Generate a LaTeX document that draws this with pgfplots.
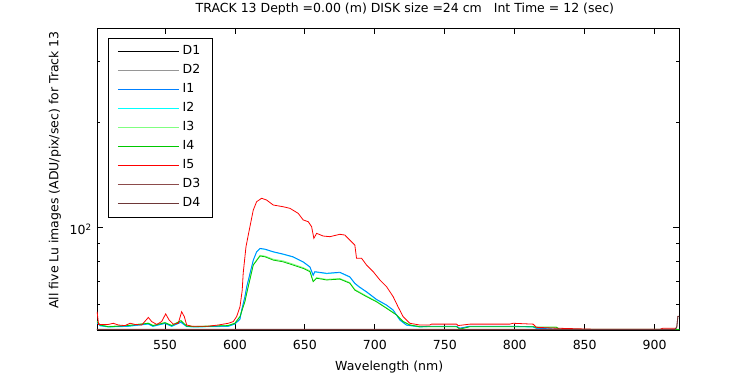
\documentclass[border=0pt]{standalone}
\usepackage{fontspec}
\setmainfont{DejaVu Sans}
\usepackage{pgfplots}
\pgfplotsset{compat=1.18}
\definecolor{cI1}{RGB}{0,128,255}
\definecolor{cI2}{RGB}{0,255,255}
\definecolor{cI3}{RGB}{128,255,128}
\definecolor{cI4}{RGB}{0,200,0}
\definecolor{cI5}{RGB}{255,0,0}
\definecolor{cD2}{RGB}{150,150,150}
\definecolor{cD3}{RGB}{140,75,75}
\definecolor{cD4}{RGB}{110,55,55}
\newcommand{\f}{\fontsize{12.5}{15}\selectfont}
\begin{document}
\f
\begin{tikzpicture}
\begin{axis}[
  scale only axis, width=582pt, height=302pt,
  ymode=log, xmin=501.4, xmax=917.4, ymin=50.7, ymax=374,
  xtick={550,600,650,700,750,800,850,900},
  ytick={100}, yticklabels={10\textsuperscript{2}},
  minor ytick={60,70,80,90,200,300},
  major tick length=6pt, minor tick length=3.5pt,
  tick style={black, line width=0.8pt},
  axis line style={line width=0.8pt},
  every tick label/.append style={font=\f},
  /pgf/number format/assume math mode=true,
  xticklabel style={anchor=base, yshift=-20pt},
  yticklabel style={xshift=-1pt, yshift=-2pt},
  title={TRACK 13 Depth =0.00 (m) DISK size =24 cm \ \ Int Time = 12 (sec)},
  title style={font=\f, at={(axis description cs:0.529,1.0298)}, anchor=base},
  xlabel={Wavelength (nm)},
  ylabel={All five Lu images (ADU/pix/sec) for Track 13},
  xlabel style={font=\f, at={(axis description cs:0.502,-0.1325)}, anchor=base},
  ylabel style={font=\f, at={(axis description cs:-0.0722,0.53)}, anchor=center, rotate=0},
  legend style={at={(0.0189,0.9669)}, anchor=north west, draw=black, line width=0.8pt, fill=white,
    font=\f, row sep=7pt, column sep=0pt, inner xsep=9pt, inner ysep=7.5pt,
    nodes={inner xsep=3.5pt, inner ysep=0pt, text height=9pt, text depth=3pt}},
  legend cell align=left,
  legend image code/.code={\draw[#1, line width=0.8pt] (0pt,0pt) -- (61pt,0pt);},
  every axis plot/.append style={line width=0.8pt},
]
\addlegendimage{black}\addlegendentry{D1}
\addlegendimage{cD2}\addlegendentry{D2}
\addlegendimage{cI1}\addlegendentry{I1}
\addlegendimage{cI2}\addlegendentry{I2}
\addlegendimage{cI3}\addlegendentry{I3}
\addlegendimage{cI4}\addlegendentry{I4}
\addlegendimage{cI5}\addlegendentry{I5}
\addlegendimage{cD3}\addlegendentry{D3}
\addlegendimage{cD4}\addlegendentry{D4}
% dark frames
\addplot[black, forget plot] coordinates {(501.4,50.75) (917.4,50.75)};
\addplot[cD2, forget plot] coordinates {(501.4,50.8) (917.4,50.8)};
% I2 (under I1)
\addplot[cI2, forget plot] coordinates {
(501.5,53.1) (503.6,52.1) (509.5,51.7) (523.6,51.9) (538.1,52.7) (541.4,51.9) (550,52.9) (554.8,51.9) (561.4,53.3) (565.5,51.8) (571.4,51.7) (595.2,51.9) (600,52.7) (603.6,54.4) (604.8,57.7) (607.1,63.0) (608.4,67.3) (613.1,80.3) (615.5,84.9) (617.9,86.8) (621.4,86.4) (627.4,84.9) (634.5,83.6) (641.6,82.1) (648.8,79.4) (653.6,76.8) (655.9,72.7) (657.1,74.4) (665.5,73.6) (675,74.1) (682.1,71.9) (685.7,68.9) (688.8,67.3) (694.1,65.1) (701.2,61.9) (708.4,59.7) (713.1,57.7) (717.9,54.1) (722.6,52.3) (732.1,51.7) (739.3,51.9) (758.4,51.9) (760.7,51.2) (767.9,51.9) (796.4,51.9) (813.1,51.7) (815.5,51.2) (829.8,50.9) (860.7,50.75) (917.4,50.75)};
% I3 (under I4)
\addplot[cI3, forget plot] coordinates {
(501.5,53.7) (503.6,52.5) (509.5,51.9) (523.6,52.3) (538.1,53.1) (541.4,52.3) (550,53.3) (554.8,52.3) (561.4,54.0) (565.5,52.1) (571.4,51.9) (595.2,52.3) (600,53.1) (603.6,55.5) (607.1,61.2) (608.4,64.8) (613.1,78.2) (617.9,83.1) (621.4,82.7) (627.4,81.0) (634.5,80.1) (641.6,78.4) (648.8,76.6) (653.6,75.0) (655.9,70.1) (658.4,71.7) (665.5,70.9) (675,71.3) (682.1,69.4) (685.7,66.3) (694.1,63.5) (701.2,61.3) (708.4,58.7) (715.5,56.1) (720.2,53.7) (725,52.5) (732.1,51.9) (758.4,51.9) (760.7,51.1) (767.9,51.9) (813.1,51.9) (815.5,51.7) (829.8,51.7) (832.1,51.0) (917.4,50.9)};
% I1
\addplot[cI1, forget plot] coordinates {
(501.5,53.2) (503.6,52.2) (509.5,51.8) (523.6,52.0) (538.1,52.8) (541.4,52.0) (550,53.0) (554.8,52.0) (561.4,53.4) (565.5,51.9) (571.4,51.8) (595.2,52.0) (600,52.8) (603.6,54.5) (604.8,57.9) (607.1,63.2) (608.4,67.5) (613.1,80.5) (615.5,85.1) (617.9,87.0) (621.4,86.6) (627.4,85.1) (634.5,83.8) (641.6,82.3) (648.8,79.6) (653.6,77.0) (655.9,72.9) (657.1,74.6) (665.5,73.8) (675,74.3) (682.1,72.1) (685.7,69.1) (688.8,67.5) (694.1,65.3) (701.2,62.1) (708.4,59.8) (713.1,57.9) (717.9,54.2) (722.6,52.4) (732.1,51.8) (739.3,52.0) (758.4,52.0) (760.7,51.3) (767.9,52.0) (796.4,52.0) (813.1,51.8) (815.5,51.3) (829.8,51.0) (860.7,50.8) (917.4,50.8)};
% I4
\addplot[cI4, forget plot] coordinates {
(501.5,53.6) (503.6,52.4) (509.5,51.8) (523.6,52.2) (538.1,53.0) (541.4,52.2) (550,53.2) (554.8,52.2) (561.4,53.9) (565.5,52.0) (571.4,51.8) (595.2,52.2) (600,53.0) (603.6,55.4) (607.1,61.1) (608.4,64.6) (613.1,77.9) (617.9,82.7) (621.4,82.3) (627.4,80.5) (634.5,79.6) (641.6,77.9) (648.8,76.2) (653.6,74.6) (655.9,69.8) (658.4,71.4) (665.5,70.6) (675,71.0) (682.1,69.1) (685.7,66.0) (694.1,63.2) (701.2,61.1) (708.4,58.5) (715.5,56.0) (720.2,53.6) (725,52.4) (732.1,51.8) (758.4,51.8) (760.7,51.0) (767.9,51.8) (813.1,51.8) (815.5,51.6) (829.8,51.6) (832.1,50.9) (917.4,50.85)};
% I5
\addplot[cI5, forget plot] coordinates {
(501.5,57.2) (502.5,52.6) (509.5,52.6) (513.1,53.0) (516.6,52.4) (521.4,52.2) (525,53.0) (528.6,52.6) (533.4,52.4) (538.1,55.1) (540.5,53.6) (544.1,52.6) (547.6,53.6) (550.5,56.4) (552.9,54.2) (555.9,52.7) (559.5,53.0) (561.9,57.2) (563.8,55.4) (565.5,52.4) (569.1,52.0) (580.9,52.0) (588.1,52.4) (595.2,53.0) (598.8,53.6) (601.2,55.4) (603.6,59.1) (605.2,66.0) (605.9,73.8) (607.9,88.0) (610.7,100.4) (613.1,112.1) (615.5,118.5) (619.1,121.2) (622.6,119.8) (627.4,115.9) (634.5,114.6) (639.3,113.4) (645.2,109.7) (648.8,105.0) (652.4,103.8) (654.8,100.4) (656.4,93.0) (658.4,96.1) (663.1,94.4) (667.9,94.0) (675,95.5) (678.6,95.0) (682.1,91.9) (685.7,88.9) (686.9,81.5) (690.5,81.5) (694.1,77.9) (698.8,74.6) (703.6,70.6) (708.4,67.5) (713.1,63.2) (716.6,59.1) (720.2,55.4) (725,53.0) (732.1,52.4) (739.3,52.4) (740.5,52.7) (758.4,52.7) (759.5,52.2) (767.9,52.7) (796.4,52.7) (798.8,53.0) (813.1,52.7) (815.5,51.6) (829.8,51.3) (860.7,50.9) (903.6,50.9) (905.9,51.3) (915.5,51.3)};
% D3, D4
\addplot[cD3, forget plot] coordinates {(501.4,50.85) (914.5,50.85) (915.8,51.6) (916.6,55.4) (917.4,55.4)};
\addplot[cD4, forget plot] coordinates {(501.4,50.9) (914.5,50.9) (915.8,51.7) (916.6,55.5) (917.4,55.5)};
\end{axis}
\pgfresetboundingbox
\path[use as bounding box] (-97pt,-45pt) rectangle (653pt,330pt);
\end{tikzpicture}
\end{document}
